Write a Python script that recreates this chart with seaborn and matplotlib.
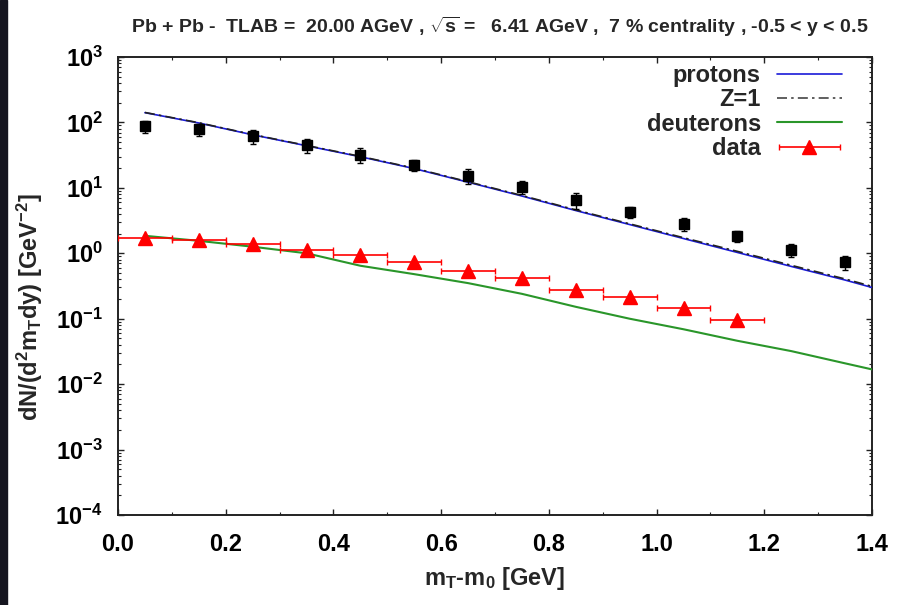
import numpy as np
import pandas as pd
import matplotlib
matplotlib.use("Agg")
import matplotlib.pyplot as plt
import seaborn as sns
from matplotlib.lines import Line2D
from matplotlib.patches import Rectangle
from matplotlib.container import ErrorbarContainer
from matplotlib.legend_handler import HandlerErrorbar
from matplotlib.ticker import FixedLocator, MultipleLocator, LogLocator, NullFormatter

# ---------------- data ----------------
mt_theory = [0.05, 0.15, 0.25, 0.35, 0.45, 0.55, 0.65, 0.75, 0.85, 0.95, 1.05, 1.15, 1.25, 1.35, 1.40]
protons = [141, 98, 64.7, 44, 29.9, 19.7, 12.2, 7.5, 4.5, 2.75, 1.68, 1.03, 0.63, 0.39, 0.30]
z1 = [142, 99, 65.3, 44.5, 30.3, 20.0, 12.4, 7.65, 4.6, 2.82, 1.73, 1.07, 0.655, 0.405, 0.312]
deuterons = [1.85, 1.55, 1.26, 1.0, 0.645, 0.48, 0.35, 0.24, 0.152, 0.10, 0.069, 0.046, 0.032, 0.0208, 0.0168]

mt_p_data = [0.05, 0.15, 0.25, 0.35, 0.45, 0.55, 0.65, 0.75, 0.85, 0.95, 1.05, 1.15, 1.25, 1.35]
p_data = [88, 79, 62, 45, 32, 22.3, 15.3, 10.4, 6.5, 4.3, 2.8, 1.83, 1.12, 0.74]
p_err = [18, 17, 15, 11, 8, 4.5, 3.8, 2.3, 1.8, 0.86, 0.62, 0.35, 0.25, 0.18]

mt_d_data = [0.05, 0.15, 0.25, 0.35, 0.45, 0.55, 0.65, 0.75, 0.85, 0.95, 1.05, 1.15]
d_data = [1.69, 1.57, 1.38, 1.11, 0.93, 0.73, 0.535, 0.42, 0.277, 0.217, 0.145, 0.095]
d_xerr = [0.05] * 12

legend_labels = ["protons", "Z=1", "deuterons", "data"]
x_ticks = [0.0, 0.2, 0.4, 0.6, 0.8, 1.0, 1.2, 1.4]
y_exponents = [-4, -3, -2, -1, 0, 1, 2, 3]

title_text = r"Pb + Pb -  TLAB =  20.00 AGeV , $\sqrt{s}$ =   6.41 AGeV ,  7 % centrality , -0.5 < y < 0.5"

# ---------------- style ----------------
sns.set_style("ticks")
plt.rcParams["font.family"] = ["Liberation Sans", "DejaVu Sans"]
plt.rcParams["font.weight"] = "bold"
plt.rcParams["mathtext.fontset"] = "custom"
plt.rcParams["mathtext.rm"] = "Liberation Sans:bold"
plt.rcParams["mathtext.bf"] = "Liberation Sans:bold"
plt.rcParams["mathtext.it"] = "Liberation Sans:bold"
plt.rcParams["mathtext.sf"] = "Liberation Sans:bold"
plt.rcParams["mathtext.default"] = "bf"

W, H = 905, 605
fig = plt.figure(figsize=(W / 100, H / 100), dpi=100)
fig.patch.set_facecolor("white")
ax_l, ax_r, ax_t, ax_b = 118, 872, 57, 515
ax = fig.add_axes([ax_l / W, 1 - ax_b / H, (ax_r - ax_l) / W, (ax_b - ax_t) / H])
ax.set_facecolor("white")

# dark screenshot strip on the left
fig.patches.append(Rectangle((0, 0), 7 / W, 1, transform=fig.transFigure,
                             color="#15151f", zorder=-1))

# theory curves
sns.lineplot(x=mt_theory, y=protons, ax=ax, color="#1a1ad8", lw=1.2, zorder=3)
sns.lineplot(x=mt_theory, y=z1, ax=ax, color="#222222", lw=1.2,
             linestyle=(0, (6, 2.5, 1.5, 2.5)), zorder=4)
sns.lineplot(x=mt_theory, y=deuterons, ax=ax, color="#2a962a", lw=1.5, zorder=3)

# proton data (black squares)
ax.errorbar(mt_p_data, p_data, yerr=p_err, fmt="s", color="black", ms=7,
            elinewidth=1.0, capsize=2, capthick=1.0, zorder=5)

# deuteron data (red triangles)
dcont = ax.errorbar(mt_d_data, d_data, xerr=d_xerr, fmt="^", color="#ff0000",
                    ms=9.5, elinewidth=1.2, capsize=2.5, capthick=1.0, zorder=6)

ax.set_yscale("log")
ax.set_xlim(0.0, 1.4)
ax.set_ylim(1e-4, 1e3)

ax.xaxis.set_major_locator(FixedLocator(x_ticks))
ax.xaxis.set_minor_locator(MultipleLocator(0.1))
ax.set_xticklabels([f"{v:.1f}" for v in x_ticks])
ax.yaxis.set_major_locator(FixedLocator([10.0 ** e for e in y_exponents]))
ax.set_yticklabels([r"$10^{%d}$" % e for e in y_exponents])
ax.yaxis.set_minor_locator(LogLocator(base=10, subs=np.arange(2, 10), numticks=20))
ax.yaxis.set_minor_formatter(NullFormatter())

ax.tick_params(which="both", direction="in", top=True, right=True, colors="#222222")
ax.tick_params(which="major", length=4, width=1.0)
ax.tick_params(which="minor", length=2.5, width=0.8)
ax.tick_params(axis="x", which="major", pad=13, labelsize=17, labelcolor="black")
ax.tick_params(axis="y", which="major", pad=11, labelsize=17, labelcolor="black")
for lab in ax.get_xticklabels() + ax.get_yticklabels():
    lab.set_fontweight("bold")

for sp in ax.spines.values():
    sp.set_linewidth(1.4)
    sp.set_color("#222222")

ax.set_xlabel(r"m$_{T}$-m$_{0}$ [GeV]", fontsize=17, fontweight="bold")
ax.set_ylabel(r"dN/(d$^{2}$m$_{T}$dy) [GeV$^{-2}$]", fontsize=17, fontweight="bold")
ax.xaxis.set_label_coords(0.5, -0.11)
ax.yaxis.set_label_coords(-0.097, 0.455)

fig.text(500 / W, 1 - 33 / H, title_text, fontsize=14, fontweight="bold",
         ha="center", va="baseline")

handles = [
    Line2D([], [], color="#1a1ad8", lw=1.2),
    Line2D([], [], color="#444444", lw=1.2, linestyle=(0, (6, 2.5, 1.5, 2.5))),
    Line2D([], [], color="#2a962a", lw=1.5),
    dcont,
]
leg = ax.legend(handles, legend_labels, loc="upper right",
                bbox_to_anchor=(0.96, 0.985), markerfirst=False, frameon=False,
                prop={"size": 17, "weight": "bold"}, handlelength=2.75,
                handletextpad=0.68, labelspacing=0.06, borderpad=0,
                borderaxespad=0,
                handler_map={ErrorbarContainer: HandlerErrorbar(xerr_size=1.3)})

fig.savefig("out.png", dpi=100)
